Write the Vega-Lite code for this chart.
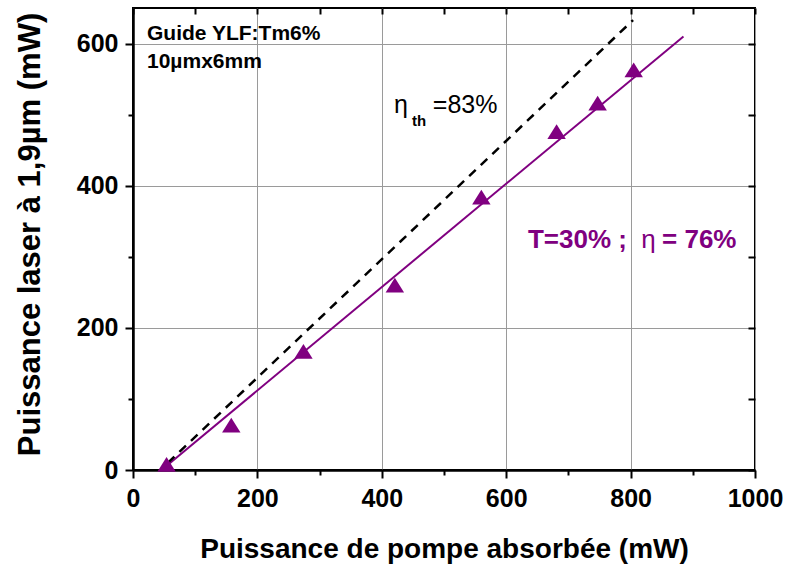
{
  "$schema": "https://vega.github.io/schema/vega-lite/v6.json",
  "width": 622,
  "height": 462,
  "autosize": {"type": "none"},
  "padding": {"left": 133, "top": 8, "right": 32, "bottom": 94},
  "background": "white",
  "config": {
    "view": {"stroke": "black", "strokeWidth": 2},
    "font": "Liberation Sans",
    "axis": {
      "labelFont": "Liberation Sans",
      "titleFont": "Liberation Sans",
      "labelColor": "black",
      "titleColor": "black",
      "tickColor": "black",
      "domainColor": "black",
      "gridColor": "#9a9a9a",
      "gridWidth": 1,
      "tickWidth": 2,
      "labelFlush": false,
      "labelOverlap": false,
      "labelBound": false,
      "format": "d"
    }
  },
  "datasets": {
    "points": [
      {"pompe": 54, "laser": 8},
      {"pompe": 158, "laser": 63},
      {"pompe": 274, "laser": 167},
      {"pompe": 421, "laser": 260},
      {"pompe": 560, "laser": 384},
      {"pompe": 681, "laser": 476},
      {"pompe": 747, "laser": 516},
      {"pompe": 805, "laser": 563}
    ],
    "fit": [
      {"pompe": 46, "laser": 0},
      {"pompe": 885, "laser": 610}
    ],
    "theory": [
      {"pompe": 56, "laser": 10},
      {"pompe": 804, "laser": 633}
    ]
  },
  "layer": [
    {
      "data": {"name": "fit"},
      "mark": {"type": "line", "color": "#800080", "strokeWidth": 2},
      "encoding": {
        "x": {
          "field": "pompe", "type": "quantitative",
          "scale": {"domain": [0, 1000], "nice": false, "zero": false},
          "axis": {
            "orient": "bottom",
            "values": [0, 200, 400, 600, 800, 1000],
            "format": "d",
            "grid": true,
            "tickSize": 8,
            "domainWidth": 2.5,
            "labelFontSize": 25,
            "labelFontWeight": "bold",
            "labelPadding": 8,
            "title": "Puissance de pompe absorbée (mW)",
            "titleFontSize": 28,
            "titleFontWeight": "bold",
            "titleY": 87,
            "titleBaseline": "alphabetic"
          }
        },
        "y": {
          "field": "laser", "type": "quantitative",
          "scale": {"domain": [0, 650], "nice": false, "zero": false},
          "axis": {
            "orient": "left",
            "values": [0, 200, 400, 600],
            "format": "d",
            "grid": true,
            "tickSize": 8,
            "domainWidth": 2.5,
            "labelFontSize": 25,
            "labelFontWeight": "bold",
            "labelPadding": 7,
            "title": "Puissance laser à 1,9µm (mW)",
            "titleFontSize": 31,
            "titleFontWeight": "bold",
            "titleAngle": -90,
            "titleX": -94,
            "titleY": 226,
            "titleAlign": "center",
            "titleBaseline": "alphabetic"
          }
        }
      }
    },
    {
      "data": {"name": "theory"},
      "mark": {"type": "line", "color": "black", "strokeWidth": 2.5, "strokeDash": [9, 7]},
      "encoding": {
        "x": {
          "field": "pompe", "type": "quantitative",
          "scale": {"domain": [0, 1000], "nice": false, "zero": false},
          "axis": {
            "orient": "top",
            "values": [0, 100, 200, 300, 400, 500, 600, 700, 800, 900, 1000],
            "labels": false, "grid": false, "domain": false,
            "tickSize": -6, "title": null
          }
        },
        "y": {
          "field": "laser", "type": "quantitative",
          "scale": {"domain": [0, 650], "nice": false, "zero": false},
          "axis": {
            "orient": "right",
            "values": [0, 100, 200, 300, 400, 500, 600],
            "labels": false, "grid": false, "domain": false,
            "tickSize": -7, "title": null
          }
        }
      }
    },
    {
      "data": {"name": "points"},
      "mark": {"type": "point", "shape": "M-1,0.8H1L0,-0.8Z", "filled": true, "opacity": 1, "size": 340, "color": "#800080"},
      "encoding": {
        "x": {
          "field": "pompe", "type": "quantitative",
          "scale": {"domain": [0, 1000], "nice": false, "zero": false},
          "axis": {
            "orient": "bottom",
            "values": [100, 300, 500, 700, 900],
            "labels": false, "grid": false, "domain": false,
            "tickSize": 5, "title": null
          }
        },
        "y": {
          "field": "laser", "type": "quantitative",
          "scale": {"domain": [0, 650], "nice": false, "zero": false},
          "axis": {
            "orient": "left",
            "values": [100, 300, 500],
            "labels": false, "grid": false, "domain": false,
            "tickSize": 5, "title": null
          }
        }
      }
    },
    {
      "data": {"values": [
        {"label": "Guide YLF:Tm6%", "pompe": 22.5, "laser": 605},
        {"label": "10µmx6mm", "pompe": 22.5, "laser": 566}
      ]},
      "mark": {"type": "text", "align": "left", "baseline": "alphabetic", "fontSize": 21, "fontWeight": "bold", "color": "black", "font": "Liberation Sans"},
      "encoding": {
        "x": {"field": "pompe", "type": "quantitative", "scale": {"domain": [0, 1000], "nice": false, "zero": false}, "axis": null},
        "y": {"field": "laser", "type": "quantitative", "scale": {"domain": [0, 650], "nice": false, "zero": false}, "axis": null},
        "text": {"field": "label"}
      }
    },
    {
      "data": {"values": [
        {"label": "η", "pompe": 419.6, "laser": 502},
        {"label": "=83%", "pompe": 482, "laser": 502}
      ]},
      "mark": {"type": "text", "align": "left", "baseline": "alphabetic", "fontSize": 25, "color": "black", "font": "Liberation Sans"},
      "encoding": {
        "x": {"field": "pompe", "type": "quantitative", "scale": {"domain": [0, 1000], "nice": false, "zero": false}, "axis": null},
        "y": {"field": "laser", "type": "quantitative", "scale": {"domain": [0, 650], "nice": false, "zero": false}, "axis": null},
        "text": {"field": "label"}
      }
    },
    {
      "data": {"values": [
        {"label": "th", "pompe": 448.5, "laser": 484}
      ]},
      "mark": {"type": "text", "align": "left", "baseline": "alphabetic", "fontSize": 15, "fontWeight": "bold", "color": "black", "font": "Liberation Sans"},
      "encoding": {
        "x": {"field": "pompe", "type": "quantitative", "scale": {"domain": [0, 1000], "nice": false, "zero": false}, "axis": null},
        "y": {"field": "laser", "type": "quantitative", "scale": {"domain": [0, 650], "nice": false, "zero": false}, "axis": null},
        "text": {"field": "label"}
      }
    },
    {
      "data": {"values": [
        {"label": "T=30% ;", "pompe": 635, "laser": 312},
        {"label": "= 76%", "pompe": 850.5, "laser": 312}
      ]},
      "mark": {"type": "text", "align": "left", "baseline": "alphabetic", "fontSize": 26, "fontWeight": "bold", "color": "#800080", "font": "Liberation Sans"},
      "encoding": {
        "x": {"field": "pompe", "type": "quantitative", "scale": {"domain": [0, 1000], "nice": false, "zero": false}, "axis": null},
        "y": {"field": "laser", "type": "quantitative", "scale": {"domain": [0, 650], "nice": false, "zero": false}, "axis": null},
        "text": {"field": "label"}
      }
    },
    {
      "data": {"values": [
        {"label": "η", "pompe": 817, "laser": 312}
      ]},
      "mark": {"type": "text", "align": "left", "baseline": "alphabetic", "fontSize": 26, "color": "#800080", "font": "Liberation Sans"},
      "encoding": {
        "x": {"field": "pompe", "type": "quantitative", "scale": {"domain": [0, 1000], "nice": false, "zero": false}, "axis": null},
        "y": {"field": "laser", "type": "quantitative", "scale": {"domain": [0, 650], "nice": false, "zero": false}, "axis": null},
        "text": {"field": "label"}
      }
    }
  ],
  "resolve": {"axis": {"x": "independent", "y": "independent"}}
}
